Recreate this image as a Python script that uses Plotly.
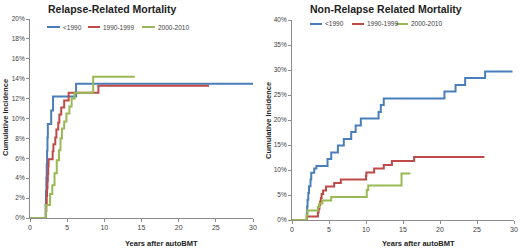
import plotly.graph_objects as go

series_names = ["<1990", "1990-1999", "2000-2010"]
colors = ["#4A7EBB", "#BE4B48", "#98B954"]

# Relapse-related mortality (years, cumulative incidence %)
rrm_lt1990_x = [0, 2.1, 2.15, 2.2, 2.25, 2.3, 2.35, 2.4, 2.85, 3.1, 6.2, 30]
rrm_lt1990_y = [0, 1.35, 2.7, 4.05, 5.4, 6.75, 8.1, 9.45, 10.8, 12.2, 13.5, 13.5]
rrm_1990_x = [0, 2.15, 2.2, 2.25, 2.3, 2.35, 2.4, 2.45, 2.5, 3.05, 3.15, 3.4, 3.55, 3.8, 3.95, 4.2, 4.6, 5.2, 9.2, 24.1]
rrm_1990_y = [0, 0.7, 1.5, 2.2, 3.0, 3.7, 4.4, 5.2, 5.9, 6.7, 7.4, 8.1, 8.9, 9.6, 10.4, 11.1, 11.8, 12.6, 13.3, 13.3]
rrm_2000_x = [0, 2.15, 2.7, 3.0, 3.3, 3.6, 3.9, 4.1, 4.3, 4.6, 4.9, 5.3, 5.6, 6.0, 8.5, 14.1]
rrm_2000_y = [0, 1.3, 2.4, 3.3, 4.5, 5.8, 6.8, 8.0, 9.0, 9.7, 10.5, 11.2, 12.0, 12.6, 14.2, 14.2]

# Non-relapse related mortality
nrm_lt1990_x = [0, 2.0, 2.05, 2.1, 2.2, 2.3, 2.5, 2.6, 3.0, 3.3, 4.8, 5.3, 6.2, 7.0, 8.0, 8.6, 9.3, 11.7, 12.0, 12.4, 20.6, 22.1, 23.4, 26.1, 29.8]
nrm_lt1990_y = [0, 1.35, 2.7, 4.05, 5.4, 6.75, 8.1, 9.45, 10.3, 10.8, 12.2, 13.5, 14.9, 16.2, 17.6, 18.9, 20.3, 21.6, 23.0, 24.3, 25.7, 27.0, 28.4, 29.7, 29.7]
nrm_1990_x = [0, 2.0, 3.5, 3.6, 3.7, 3.8, 3.9, 4.0, 4.2, 4.6, 5.7, 6.6, 10.0, 10.05, 11.1, 12.4, 13.5, 16.5, 26.0]
nrm_1990_y = [0, 0.7, 1.5, 2.2, 3.0, 3.7, 4.4, 5.2, 5.9, 6.7, 7.4, 8.1, 8.8, 9.5, 10.3, 11.0, 11.8, 12.6, 12.6]
nrm_2000_x = [0, 2.0, 2.1, 3.5, 3.7, 4.1, 5.3, 10.1, 10.3, 14.8, 16.0]
nrm_2000_y = [0, 1.0, 1.9, 2.6, 3.3, 3.9, 4.6, 6.0, 6.9, 9.3, 9.3]

x_ticks = [0, 5, 10, 15, 20, 25, 30]
rrm_y_ticks = [0, 2, 4, 6, 8, 10, 12, 14, 16, 18, 20]
nrm_y_ticks = [0, 5, 10, 15, 20, 25, 30, 35, 40]
titles = ["Relapse-Related Mortality", "Non-Relapse Related Mortality"]
x_title = "Years after autoBMT"
y_title = "Cumulative Incidence"

FONT = "Liberation Sans"
AX = "#8C8C8C"
TXT = "#404040"

fig = go.Figure()
left = [(rrm_lt1990_x, rrm_lt1990_y), (rrm_1990_x, rrm_1990_y), (rrm_2000_x, rrm_2000_y)]
right = [(nrm_lt1990_x, nrm_lt1990_y), (nrm_1990_x, nrm_1990_y), (nrm_2000_x, nrm_2000_y)]
for i, (xs, ys) in enumerate(left):
    fig.add_trace(go.Scatter(x=xs, y=ys, mode="lines", line=dict(shape="hv", color=colors[i], width=2),
                             name=series_names[i], xaxis="x", yaxis="y", showlegend=False))
for i, (xs, ys) in enumerate(right):
    fig.add_trace(go.Scatter(x=xs, y=ys, mode="lines", line=dict(shape="hv", color=colors[i], width=2),
                             name=series_names[i], xaxis="x2", yaxis="y2", showlegend=False))

def xaxis(domain, anchor):
    return dict(domain=domain, anchor=anchor, range=[0, 30], tickvals=x_ticks, showgrid=False, zeroline=False,
                showline=True, linecolor=AX, linewidth=1, ticks="outside", ticklen=3, tickcolor=AX,
                automargin=False,
                tickfont=dict(family=FONT, size=7, color=TXT), fixedrange=True)

def yaxis(domain, anchor, rng, ticks):
    return dict(domain=domain, anchor=anchor, range=rng, tickvals=ticks, ticktext=[f"{t}%" for t in ticks],
                showgrid=False, zeroline=False, showline=True, linecolor=AX, linewidth=1, ticks="outside",
                automargin=False,
                ticklen=3, tickcolor=AX, tickfont=dict(family=FONT, size=6.5, color=TXT), fixedrange=True)

W, H = 520, 249
fig.update_layout(
    template="none",
    width=W, height=H, margin=dict(l=0, r=0, t=0, b=0, autoexpand=False),
    paper_bgcolor="white", plot_bgcolor="white", showlegend=False,
    xaxis=xaxis([30 / W, 253 / W], "y"),
    yaxis=yaxis([(H - 218) / H, (H - 19) / H], "x", [0, 20], rrm_y_ticks),
    xaxis2=xaxis([292 / W, 514 / W], "y2"),
    yaxis2=yaxis([(H - 220) / H, (H - 20) / H], "x2", [0, 40], nrm_y_ticks),
)

ann = []
shapes = []
# titles
ann.append(dict(text=f"<b>{titles[0]}</b>", x=46 / W, y=1 - 9 / H, xref="paper", yref="paper",
                xanchor="left", yanchor="middle", showarrow=False, font=dict(family=FONT, size=10.5, color="#222")))
ann.append(dict(text=f"<b>{titles[1]}</b>", x=308 / W, y=1 - 9 / H, xref="paper", yref="paper",
                xanchor="left", yanchor="middle", showarrow=False, font=dict(family=FONT, size=10.5, color="#222")))
# axis titles
for xc in [161 / W, 418 / W]:
    ann.append(dict(text=f"<b>{x_title}</b>", x=xc, y=1 - 243 / H, xref="paper", yref="paper",
                    xanchor="center", yanchor="middle", showarrow=False, font=dict(family=FONT, size=7.5, color="#222")))
for xc, yc in [(5 / W, 118 / H), (268 / W, 121 / H)]:
    ann.append(dict(text=f"<b>{y_title}</b>", x=xc, y=1 - yc, xref="paper", yref="paper", textangle=-90,
                    xanchor="center", yanchor="middle", showarrow=False, font=dict(family=FONT, size=7.5, color="#222")))
# legends
leg_left = [(47, 61), (88, 101), (142, 156)]
leg_right = [(310, 323), (352, 365), (396, 409)]
for legs, yy in [(leg_left, 27), (leg_right, 24)]:
    for i, (x0, tx) in enumerate(legs):
        shapes.append(dict(type="line", xref="paper", yref="paper", x0=x0 / W, x1=(tx - 1) / W,
                           y0=1 - yy / H, y1=1 - yy / H, line=dict(color=colors[i], width=2)))
        ann.append(dict(text=series_names[i].replace("<", "&lt;"), x=tx / W, y=1 - yy / H, xref="paper", yref="paper",
                        xanchor="left", yanchor="middle", showarrow=False,
                        font=dict(family=FONT, size=6.5, color=TXT)))
fig.update_layout(annotations=ann, shapes=shapes)

fig.write_html("out.html", config={"displayModeBar": False},
               post_script="document.body.style.margin='0';document.body.style.overflow='hidden';")
